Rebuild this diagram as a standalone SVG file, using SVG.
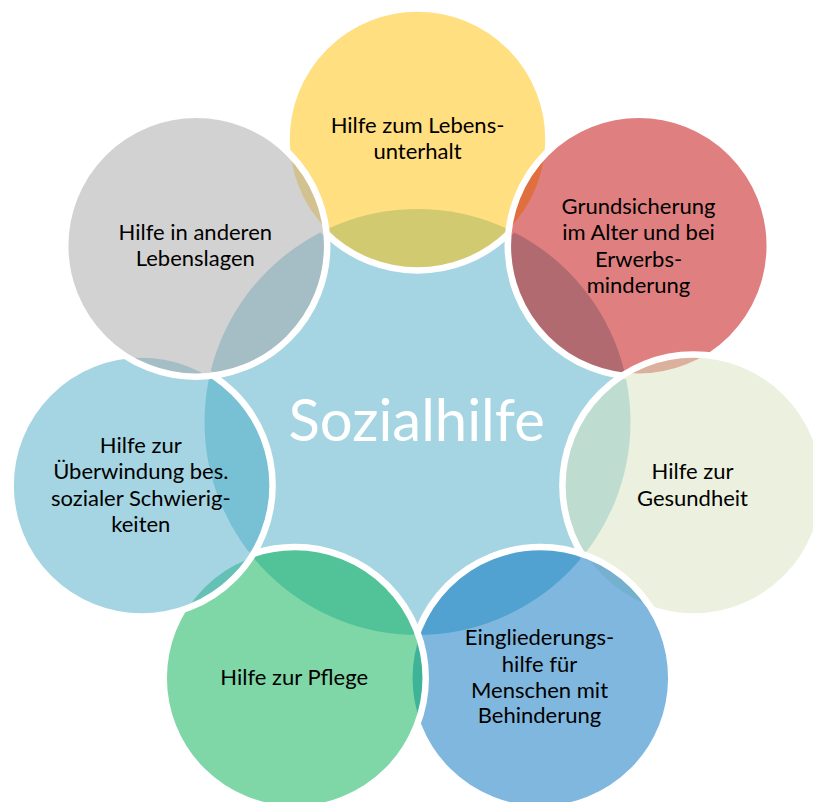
<svg xmlns="http://www.w3.org/2000/svg" width="813" height="802" viewBox="0 0 813 802">
<style>
  .c { stroke: #FFFFFF; stroke-width: 6.5; fill-opacity: 0.5; }
  .t { font-family: Lato, "Liberation Sans", sans-serif; font-size: 22px; fill: #000000; text-anchor: middle; }
  .big { font-family: Lato, "Liberation Sans", sans-serif; font-size: 58px; fill: #FFFFFF; text-anchor: middle; }
</style>
<rect x="0" y="0" width="813" height="802" fill="#FFFFFF"/>
<g id="center">
  <circle cx="417.5" cy="422" r="213" fill="#4BACC6" fill-opacity="0.5"/>
</g>
<g id="n1">
  <circle class="c" cx="417.5" cy="139.5" r="131" fill="#FFC000"/>
  <text class="t" x="417.5" y="132.7">Hilfe zum Lebens-</text>
  <text class="t" x="417.5" y="159.3">unterhalt</text>
</g>
<g id="n2">
  <circle class="c" cx="638.8" cy="245.8" r="131" fill="#C00000"/>
  <text class="t" x="638.5" y="214">Grundsicherung</text>
  <text class="t" x="638.5" y="240">im Alter und bei</text>
  <text class="t" x="638.5" y="266.5">Erwerbs-</text>
  <text class="t" x="638.5" y="292.7">minderung</text>
</g>
<g id="n3">
  <circle class="c" cx="693.4" cy="485.5" r="131" fill="#D7E4BD"/>
  <text class="t" x="692.5" y="479.3">Hilfe zur</text>
  <text class="t" x="692.5" y="505.7">Gesundheit</text>
</g>
<g id="n4">
  <circle class="c" cx="540.3" cy="678" r="131" fill="#0070C0"/>
  <text class="t" x="539.5" y="645">Eingliederungs-</text>
  <text class="t" x="539.5" y="671.7">hilfe für</text>
  <text class="t" x="539.5" y="697.7">Menschen mit</text>
  <text class="t" x="539.5" y="723.3">Behinderung</text>
</g>
<g id="n5">
  <circle class="c" cx="294.7" cy="678" r="131" fill="#00B050"/>
  <text class="t" x="294.2" y="685">Hilfe zur Pflege</text>
</g>
<g id="n6">
  <circle class="c" cx="141.6" cy="485.5" r="131" fill="#4BACC6"/>
  <text class="t" x="140.8" y="452.7">Hilfe zur</text>
  <text class="t" x="140.8" y="479.3">Überwindung bes.</text>
  <text class="t" x="140.8" y="505.7">sozialer Schwierig-</text>
  <text class="t" x="140.8" y="531.7">keiten</text>
</g>
<g id="n7">
  <circle class="c" cx="196.2" cy="245.8" r="131" fill="#A6A6A6"/>
  <text class="t" x="195.3" y="240">Hilfe in anderen</text>
  <text class="t" x="195.3" y="265.7">Lebenslagen</text>
</g>
<g id="center-label">
  <text class="big" x="416.7" y="440.7">Sozialhilfe</text>
</g>
<g id="connectors"/>
</svg>
